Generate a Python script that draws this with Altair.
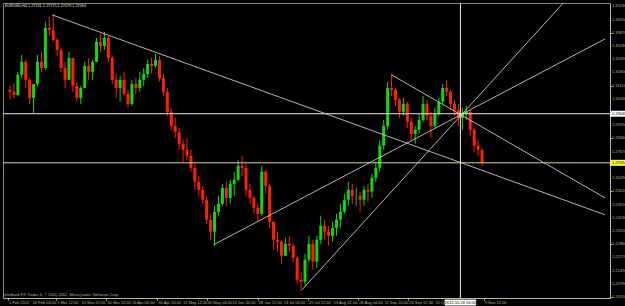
import altair as alt
import pandas as pd

# ---- EURUSD H4, Feb-Nov 2012 (aggregated candles) ----
highs = [1.3110, 1.3120, 1.3183, 1.3271, 1.3245, 1.3151, 1.3099, 1.3271, 1.3287, 1.3443,
         1.3469, 1.3484, 1.3359, 1.3307, 1.3235, 1.3287, 1.3255, 1.3131, 1.3110, 1.3235,
         1.3255, 1.3245, 1.3359, 1.3380, 1.3391, 1.3370, 1.3266, 1.3172, 1.3162, 1.3183,
         1.3089, 1.3141, 1.3151, 1.3183, 1.3203, 1.3245, 1.3255, 1.3276, 1.3266, 1.3172,
         1.3099, 1.2995, 1.2943, 1.2891, 1.2829, 1.2839, 1.2777, 1.2704, 1.2642, 1.2590,
         1.2538, 1.2444, 1.2486, 1.2538, 1.2600, 1.2611, 1.2621, 1.2663, 1.2725, 1.2746,
         1.2704, 1.2600, 1.2538, 1.2496, 1.2694, 1.2673, 1.2600, 1.2403, 1.2351, 1.2309,
         1.2319, 1.2330, 1.2288, 1.2226, 1.2143, 1.2236, 1.2330, 1.2309, 1.2330, 1.2434,
         1.2413, 1.2382, 1.2403, 1.2444, 1.2496, 1.2548, 1.2611, 1.2600, 1.2579, 1.2559,
         1.2590, 1.2600, 1.2652, 1.2715, 1.2829, 1.2933, 1.3131, 1.3172, 1.3099, 1.3047,
         1.3047, 1.3027, 1.2943, 1.2902, 1.2964, 1.3058, 1.3037, 1.2975, 1.2995, 1.3047,
         1.3120, 1.3141, 1.3089, 1.3037, 1.3016, 1.2995, 1.3006, 1.2985, 1.2891, 1.2829,
         1.2787]
lows = [1.3037, 1.3047, 1.3058, 1.3151, 1.3099, 1.3016, 1.2969, 1.3110, 1.3183, 1.3193,
        1.3370, 1.3339, 1.3266, 1.3183, 1.3099, 1.3141, 1.3079, 1.3027, 1.3016, 1.3099,
        1.3141, 1.3141, 1.3235, 1.3287, 1.3297, 1.3235, 1.3120, 1.3047, 1.3027, 1.3058,
        1.2995, 1.3006, 1.3068, 1.3079, 1.3110, 1.3151, 1.3172, 1.3203, 1.3131, 1.3058,
        1.2954, 1.2881, 1.2839, 1.2777, 1.2715, 1.2725, 1.2663, 1.2569, 1.2538, 1.2496,
        1.2392, 1.2309, 1.2278, 1.2434, 1.2486, 1.2486, 1.2496, 1.2538, 1.2611, 1.2642,
        1.2538, 1.2496, 1.2444, 1.2403, 1.2434, 1.2548, 1.2371, 1.2257, 1.2247, 1.2184,
        1.2226, 1.2247, 1.2195, 1.2080, 1.2044, 1.2070, 1.2195, 1.2153, 1.2163, 1.2288,
        1.2309, 1.2278, 1.2299, 1.2330, 1.2371, 1.2444, 1.2486, 1.2496, 1.2486, 1.2455,
        1.2486, 1.2507, 1.2527, 1.2611, 1.2663, 1.2777, 1.2881, 1.3058, 1.3006, 1.2943,
        1.2954, 1.2891, 1.2829, 1.2808, 1.2860, 1.2923, 1.2933, 1.2839, 1.2891, 1.2954,
        1.3016, 1.3058, 1.2985, 1.2954, 1.2902, 1.2881, 1.2933, 1.2850, 1.2767, 1.2746,
        1.2694]
closes = [1.3079, 1.3063, 1.3167, 1.3235, 1.3141, 1.3047, 1.3120, 1.3235, 1.3203, 1.3411,
          1.3401, 1.3349, 1.3297, 1.3203, 1.3141, 1.3255, 1.3110, 1.3047, 1.3099, 1.3214,
          1.3183, 1.3235, 1.3339, 1.3318, 1.3359, 1.3255, 1.3141, 1.3099, 1.3141, 1.3068,
          1.3016, 1.3120, 1.3099, 1.3141, 1.3172, 1.3224, 1.3214, 1.3245, 1.3151, 1.3079,
          1.2975, 1.2902, 1.2871, 1.2808, 1.2777, 1.2746, 1.2683, 1.2611, 1.2569, 1.2517,
          1.2413, 1.2351, 1.2455, 1.2496, 1.2579, 1.2527, 1.2600, 1.2621, 1.2694, 1.2683,
          1.2569, 1.2527, 1.2475, 1.2444, 1.2663, 1.2590, 1.2403, 1.2309, 1.2299, 1.2226,
          1.2288, 1.2278, 1.2215, 1.2101, 1.2091, 1.2205, 1.2288, 1.2195, 1.2309, 1.2382,
          1.2351, 1.2330, 1.2371, 1.2413, 1.2455, 1.2517, 1.2569, 1.2538, 1.2538, 1.2517,
          1.2569, 1.2559, 1.2631, 1.2683, 1.2798, 1.2902, 1.3099, 1.3089, 1.3037, 1.2975,
          1.3016, 1.2923, 1.2860, 1.2881, 1.2933, 1.3016, 1.2954, 1.2902, 1.2964, 1.3027,
          1.3099, 1.3079, 1.3016, 1.2985, 1.2943, 1.2964, 1.2975, 1.2881, 1.2798, 1.2777,
          1.27094]
first_open = 1.3090

price_ticks = [1.20110, 1.20790, 1.21490, 1.22170, 1.22860, 1.23550, 1.24230, 1.24910,
               1.25610, 1.26290, 1.26980, 1.27670, 1.28360, 1.29050, 1.29730, 1.30430,
               1.31110, 1.31800, 1.32490, 1.33180, 1.33870, 1.34550, 1.35230]

time_labels = ["1 Feb 2012", "16 Feb 04:00", "1 Mar 12:00", "15 Mar 20:00", "30 Mar 12:00",
               "16 Apr 04:00", "30 Apr 20:00", "15 May 12:00", "30 May 04:00", "13 Jun 20:00",
               "28 Jun 12:00", "13 Jul 04:00", "29 Jul 12:00", "13 Aug 12:00", "28 Aug 04:00",
               "11 Sep 20:00", "26 Sep 12:00", "11 Oct 04:00", "9 Nov 12:00"]
time_slots = [-0.5, 5.5, 11.75, 18, 24.5, 30.75, 37.5, 43.75, 50, 56.25,
              63, 69.25, 75.75, 82, 88.5, 95, 101.25, 108, 120.5]

# trend lines: (start slot, start price, end slot, end price)
trend_lines = [
    (10.75, 1.3479, 151.25, 1.2439),
    (97.0, 1.3167, 151.25, 1.2527),
    (51.75, 1.2283, 151.25, 1.3354),
    (74.25, 1.2049, 141.5, 1.3560),
]
crosshair_slot = 114.5
crosshair_price = 1.29648
crosshair_date = "2012.10.26 16:00"
title_text = "EURUSD,H4  1.27131 1.27175 1.27079 1.27094"
footer_text = "Interbank FX Trader 4, \u00a9 2001-2012, MetaQuotes Software Corp."

# ---- tables ----
n = len(closes)
opens = [first_open] + closes[:-1]
df = pd.DataFrame({"i": list(range(n)), "open": opens, "high": highs,
                   "low": lows, "close": closes})
df["high"] = df[["high", "open", "close"]].max(axis=1)
df["low"] = df[["low", "open", "close"]].min(axis=1)
df["dir"] = ["up" if c >= o else "down" for o, c in zip(opens, closes)]

tl = pd.DataFrame([{"line": k, "i": a, "p": b} for k, (a, b, c, d) in enumerate(trend_lines)] +
                  [{"line": k, "i": c, "p": d} for k, (a, b, c, d) in enumerate(trend_lines)])

# price labels hidden under the highlighted boxes are not drawn (as in the terminal)
shown_ticks = [v for v in price_ticks
               if abs(v - crosshair_price) > 0.0025 and abs(v - closes[-1]) > 0.0025]
pt_df = pd.DataFrame({"p": shown_ticks, "txt": ["%.5f" % v for v in shown_ticks]})
tt_df = pd.DataFrame({"i": time_slots, "txt": time_labels})

AX = "#b8b888"
FONT = "Liberation Sans"
FS = 4.0
xdom = [-0.5, 151.25]
ydom = [1.2006, 1.3541]

xscale = alt.Scale(domain=xdom, nice=False, zero=False)
yscale = alt.Scale(domain=ydom, nice=False, zero=False)

xaxis = alt.Axis(values=time_slots, labels=False, tickSize=2, tickColor=AX, domainColor=AX,
                 grid=False, title=None)
yaxis = alt.Axis(values=price_ticks, labels=False, orient="right", tickSize=2, tickColor=AX,
                 domainColor=AX, grid=False, title=None)

updown = alt.Scale(domain=["up", "down"], range=["#10d810", "#ff2200"])

base = alt.Chart(df)
wicks = base.mark_rule(strokeWidth=1).encode(
    x=alt.X("i:Q", scale=xscale, axis=xaxis),
    y=alt.Y("low:Q", scale=yscale, axis=yaxis),
    y2="high:Q",
    color=alt.Color("dir:N", scale=updown, legend=None),
)
bodies = base.mark_bar(size=3).encode(
    x="i:Q", y="open:Q", y2="close:Q",
    color=alt.Color("dir:N", scale=updown, legend=None),
)

lines = alt.Chart(tl).mark_line(color="#c8c8c8", strokeWidth=0.9, clip=True).encode(
    x="i:Q", y="p:Q", detail="line:N")

ylabels = alt.Chart(pt_df).mark_text(align="left", baseline="middle", fontSize=FS, font=FONT,
                                     color=AX).encode(y="p:Q", x=alt.value(609), text="txt:N")
xlabels = alt.Chart(tt_df).mark_text(align="left", baseline="middle", fontSize=FS, font=FONT,
                                     color=AX, dx=1).encode(x="i:Q", y=alt.value(299.5), text="txt:N")

hdf = pd.DataFrame({"p": [crosshair_price], "last": [closes[-1]], "i": [crosshair_slot],
                    "a": [crosshair_slot - 4.0], "b": [crosshair_slot + 4.0],
                    "ptxt": ["%.5f" % crosshair_price], "ltxt": ["%.5f" % closes[-1]],
                    "dtxt": [crosshair_date]})
hline = alt.Chart(hdf).mark_rule(color="#e8e8e8", strokeWidth=1).encode(y="p:Q")
vline = alt.Chart(hdf).mark_rule(color="#e8e8e8", strokeWidth=1).encode(x="i:Q")
bidline = alt.Chart(hdf).mark_rule(color="#d8d890", strokeWidth=1).encode(y="last:Q")

pbox = alt.Chart(hdf).mark_rule(color="#ffffff", strokeWidth=6).encode(
    y="p:Q", x=alt.value(607), x2=alt.value(625))
ptext = alt.Chart(hdf).mark_text(align="left", baseline="middle", fontSize=FS, font=FONT,
                                 color="#000000").encode(y="p:Q", x=alt.value(609), text="ptxt:N")
lbox = alt.Chart(hdf).mark_rule(color="#ffff30", strokeWidth=6).encode(
    y="last:Q", x=alt.value(607), x2=alt.value(625))
ltext = alt.Chart(hdf).mark_text(align="left", baseline="middle", fontSize=FS, font=FONT,
                                 color="#000000").encode(y="last:Q", x=alt.value(609), text="ltxt:N")
dbox = alt.Chart(hdf).mark_rule(color="#ffffff", strokeWidth=6).encode(
    x="a:Q", x2="b:Q", y=alt.value(299.5))
dtext = alt.Chart(hdf).mark_text(align="center", baseline="middle", fontSize=FS, font=FONT,
                                 color="#000000").encode(x="i:Q", y=alt.value(299.5), text="dtxt:N")

tdf = pd.DataFrame({"t": [title_text], "f": [footer_text]})
title = alt.Chart(tdf).mark_text(align="left", baseline="top", fontSize=3.8, font=FONT,
                                 color="#e0e0e0").encode(x=alt.value(2), y=alt.value(1), text="t:N")
footer = alt.Chart(tdf).mark_text(align="left", baseline="bottom", fontSize=FS, font=FONT,
                                  color=AX).encode(x=alt.value(0), y=alt.value(294), text="f:N")

chart = alt.layer(wicks, bodies, lines, hline, vline, bidline, ylabels, xlabels,
                  pbox, ptext, lbox, ltext, dbox, dtext, title, footer).properties(
    width=607, height=295,
    padding={"left": 3, "top": 3, "right": 15, "bottom": 8},
    autosize=alt.AutoSizeParams(type="none"),
    background="#000000",
).configure_view(stroke="#8a8a60", strokeWidth=1)

chart.save("out.html", embed_options={"renderer": "svg", "actions": False})
